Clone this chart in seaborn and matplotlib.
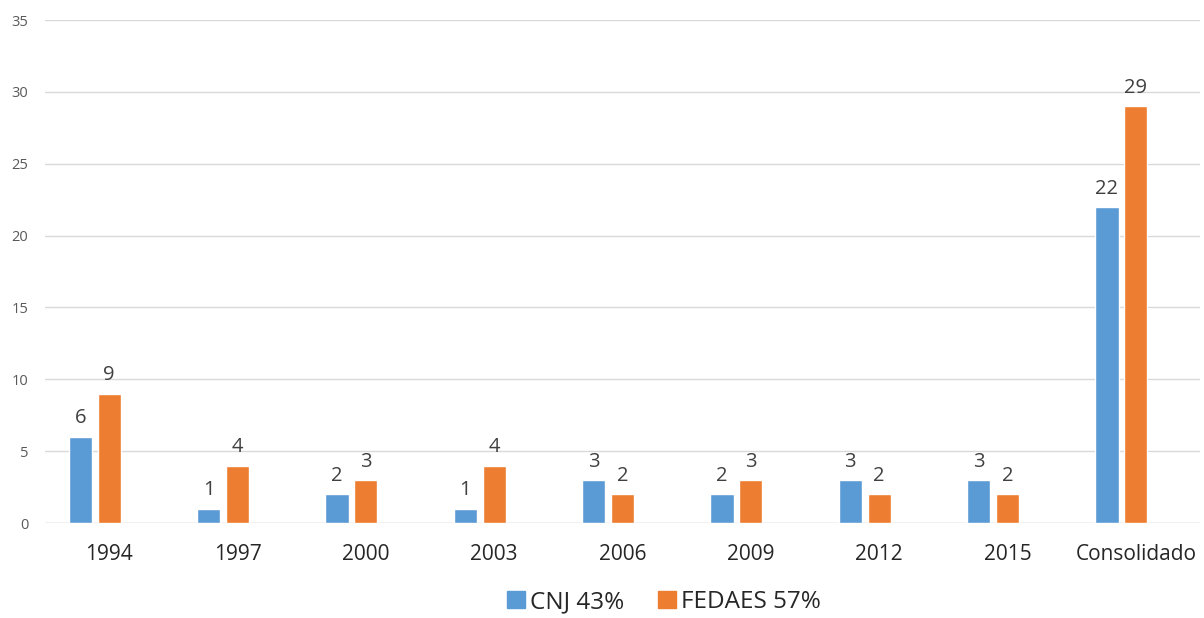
import pandas as pd
import numpy as np
import matplotlib
matplotlib.use('Agg')
import matplotlib.pyplot as plt
import seaborn as sns
from matplotlib.patches import Patch

#%%     # Data

categorias = ['1994', '1997', '2000', '2003', '2006', '2009', '2012', '2015', 'Consolidado']
cnj = [6, 1, 2, 1, 3, 2, 3, 3, 22]
fedaes = [9, 4, 3, 4, 2, 3, 2, 2, 29]
series = ['CNJ 43%', 'FEDAES 57%', 'vacio']   # third series is empty, as in the original sheet
colores = ['#5B9BD5', '#ED7D31', '#A5A5A5']

#%%     # Long format for seaborn

df = pd.DataFrame({
    'categoria': categorias * 3,
    'serie': [series[0]] * 9 + [series[1]] * 9 + [series[2]] * 9,
    'valor': cnj + fedaes + [np.nan] * 9,
})

#%%     # Plot

sns.set_style('white')
plt.rcParams['font.family'] = ['Open Sans', 'DejaVu Sans']

fig = plt.figure(figsize=(12.04, 6.18), dpi=100)
ax = fig.add_axes([0.0374, 0.1537, 0.9593, 0.8139])

sns.barplot(data=df, x='categoria', y='valor', hue='serie', hue_order=series,
            order=categorias, palette=colores, width=0.675, gap=0.2,
            saturation=1, errorbar=None, legend=False, ax=ax)

for cont in ax.containers[:2]:
    ax.bar_label(cont, fmt='%d', padding=6, fontsize=14.5, color='#404040')

ax.set_ylim(0, 35)
ax.set_yticks(range(0, 36, 5))
ax.set_xlim(-0.5, len(categorias) - 0.5)
ax.yaxis.grid(True, color='#D9D9D9', linewidth=1)
ax.set_axisbelow(True)
ax.set_xlabel('')
ax.set_ylabel('')
sns.despine(ax=ax, left=True, bottom=True, top=True, right=True)
ax.axhline(0, color='#D9D9D9', linewidth=1, zorder=0)

ax.tick_params(axis='y', length=0, labelsize=10.5, labelcolor='#595959', pad=12)
ax.tick_params(axis='x', length=0, labelsize=15, labelcolor='#262626', pad=15)

handles = [Patch(color=colores[0], label=series[0]), Patch(color=colores[1], label=series[1])]
fig.legend(handles=handles, loc='center', bbox_to_anchor=(0.5515, 0.026), ncol=2,
           frameon=False, fontsize=17.5, handlelength=0.75, handleheight=0.75,
           handletextpad=0.2, columnspacing=1.4, labelcolor='#262626',
           borderaxespad=0, borderpad=0)

fig.savefig('out.png', dpi=100)
